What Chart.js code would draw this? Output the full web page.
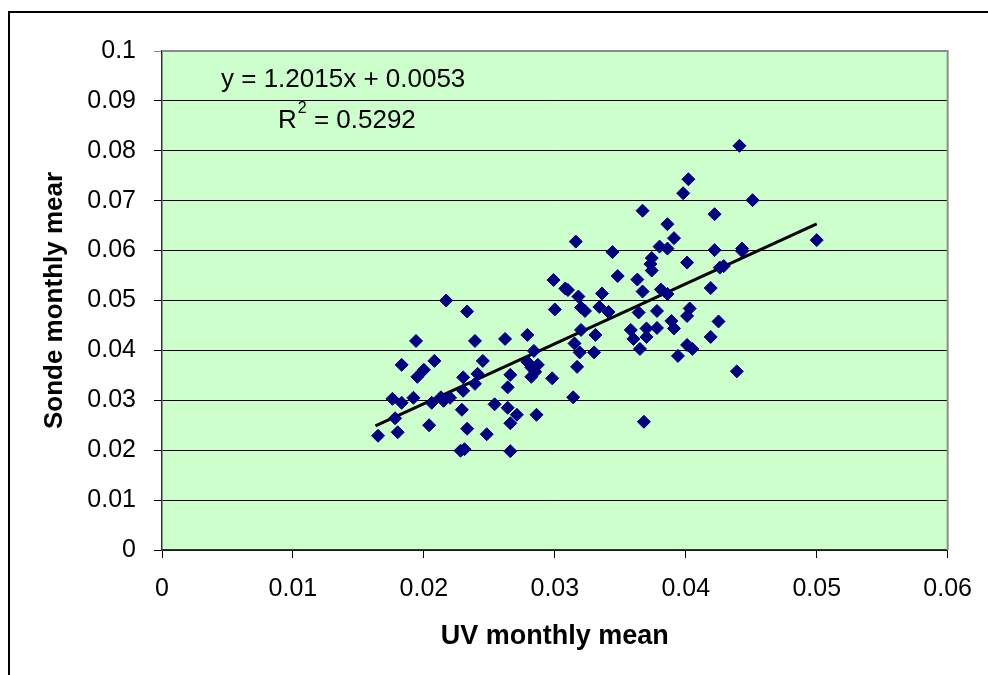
<!DOCTYPE html>
<html>
<head>
<meta charset="utf-8">
<script src="https://cdn.jsdelivr.net/npm/chart.js@4/dist/chart.umd.min.js"></script>
<style>
  html, body { margin: 0; padding: 0; background: #fff; }
  #wrap { position: relative; width: 988px; height: 675px; }
</style>
</head>
<body>
<div id="wrap"><canvas id="c" width="988" height="675"></canvas></div>
<script>
// ---- data ----
const uvMean = [
  0.0165, 0.0180, 0.0178, 0.0176, 0.0183, 0.0183, 0.0194, 0.0195, 0.0200, 0.0208,
  0.0192, 0.0204, 0.0206, 0.0213, 0.0215, 0.0220, 0.0217, 0.0233, 0.0229, 0.0233,
  0.0228, 0.0231, 0.0230, 0.0230, 0.0239, 0.0241, 0.0239, 0.0245, 0.0248, 0.0254,
  0.0262, 0.0266, 0.0264, 0.0264, 0.0271, 0.0266, 0.0266, 0.0279, 0.0284, 0.0279,
  0.0282, 0.0287, 0.0285, 0.0282, 0.0286, 0.0298, 0.0314, 0.0315, 0.0317, 0.0299,
  0.0308, 0.0310, 0.0318, 0.0300, 0.0441, 0.0402, 0.0398, 0.0451, 0.0367, 0.0422,
  0.0386, 0.0391, 0.0316, 0.0380, 0.0386, 0.0344, 0.0422, 0.0443, 0.0443, 0.0374,
  0.0373, 0.0401, 0.0374, 0.0426, 0.0429, 0.0348, 0.0363, 0.0419, 0.0367, 0.0381,
  0.0386, 0.0336, 0.0334, 0.0320, 0.0323, 0.0341, 0.0364, 0.0378, 0.0403, 0.0401,
  0.0425, 0.0389, 0.0391, 0.0320, 0.0331, 0.0358, 0.0370, 0.0370, 0.0378, 0.0360,
  0.0419, 0.0319, 0.0330, 0.0365, 0.0394, 0.0401, 0.0405, 0.0439, 0.0368, 0.0500
];
const sondeMean = [
  0.0229, 0.0236, 0.0264, 0.0303, 0.0295, 0.0371, 0.0419, 0.0347, 0.0361, 0.0379,
  0.0305, 0.0250, 0.0295, 0.0306, 0.0299, 0.0305, 0.0500, 0.0478, 0.0281, 0.0243,
  0.0199, 0.0202, 0.0346, 0.0319, 0.0419, 0.0353, 0.0333, 0.0379, 0.0232, 0.0292,
  0.0423, 0.0351, 0.0326, 0.0285, 0.0271, 0.0254, 0.0198, 0.0431, 0.0399, 0.0377,
  0.0366, 0.0371, 0.0357, 0.0347, 0.0271, 0.0344, 0.0306, 0.0414, 0.0367, 0.0541,
  0.0524, 0.0521, 0.0508, 0.0482, 0.0810, 0.0743, 0.0715, 0.0701, 0.0680, 0.0673,
  0.0653, 0.0625, 0.0618, 0.0608, 0.0604, 0.0597, 0.0601, 0.0604, 0.0599, 0.0585,
  0.0573, 0.0576, 0.0560, 0.0566, 0.0569, 0.0549, 0.0542, 0.0525, 0.0518, 0.0522,
  0.0513, 0.0514, 0.0487, 0.0486, 0.0479, 0.0477, 0.0476, 0.0479, 0.0484, 0.0469,
  0.0458, 0.0459, 0.0444, 0.0441, 0.0431, 0.0441, 0.0444, 0.0427, 0.0445, 0.0423,
  0.0427, 0.0396, 0.0396, 0.0403, 0.0389, 0.0411, 0.0403, 0.0358, 0.0257, 0.0621
];
const trendSlope = 1.2015;
const trendIntercept = 0.0053;
const rSquared = 0.5292;
const trendFrom = 0.0163;
const xTicks = [0, 0.01, 0.02, 0.03, 0.04, 0.05, 0.06];
const yTicks = [0, 0.01, 0.02, 0.03, 0.04, 0.05, 0.06, 0.07, 0.08, 0.09, 0.1];
const xTitle = 'UV monthly mean';
const yTitle = 'Sonde monthly mear';

// ---- build chart ----
const points = uvMean.map((x, i) => ({ x: x, y: sondeMean[i] }));
const xMax = Math.max(...uvMean);
const trend = [trendFrom, xMax].map(x => ({ x: x, y: trendSlope * x + trendIntercept }));

const FONT = '"Liberation Sans", Arial, sans-serif';

const decorPlugin = {
  id: 'decor',
  beforeDraw(chart) {
    const { ctx, chartArea: a } = chart;
    ctx.save();
    ctx.strokeStyle = '#000';
    ctx.lineWidth = 2;
    ctx.beginPath();
    ctx.moveTo(9, 675);
    ctx.lineTo(9, 12);
    ctx.lineTo(988, 12);
    ctx.stroke();
    ctx.fillStyle = '#CCFFCC';
    ctx.fillRect(a.left, a.top, a.right - a.left, a.bottom - a.top);
    ctx.restore();
  },
  beforeDatasetsDraw(chart) {
    const { ctx, chartArea: a } = chart;
    ctx.save();
    ctx.strokeStyle = '#8c8c8c';
    ctx.lineWidth = 2;
    ctx.beginPath();
    ctx.moveTo(a.left, a.top);
    ctx.lineTo(a.right, a.top);
    ctx.lineTo(a.right, a.bottom);
    ctx.stroke();
    ctx.restore();
  },
  afterDraw(chart) {
    const { ctx } = chart;
    ctx.save();
    ctx.fillStyle = '#000';
    ctx.textBaseline = 'alphabetic';
    ctx.textAlign = 'left';
    ctx.font = '26px ' + FONT;
    const eq = 'y = ' + trendSlope.toFixed(4) + 'x + ' + trendIntercept.toFixed(4);
    ctx.fillText(eq, 221, 87);
    ctx.fillText('R', 278, 128);
    const rw = ctx.measureText('R').width;
    ctx.font = '16px ' + FONT;
    ctx.fillText('2', 278 + rw + 1, 113);
    const sw = ctx.measureText('2').width;
    ctx.font = '26px ' + FONT;
    ctx.fillText(' = ' + rSquared.toFixed(4), 278 + rw + sw + 1, 128);
    ctx.restore();
  }
};

new Chart(document.getElementById('c'), {
  type: 'scatter',
  data: {
    datasets: [
      {
        type: 'scatter',
        data: points,
        pointStyle: 'rectRot',
        pointRadius: 6.5,
        pointHoverRadius: 6.5,
        backgroundColor: '#000080',
        borderColor: '#000080',
        borderWidth: 1
      },
      {
        type: 'line',
        data: trend,
        borderColor: '#000',
        borderWidth: 3,
        pointRadius: 0,
        fill: false,
        tension: 0
      }
    ]
  },
  plugins: [decorPlugin],
  options: {
    responsive: false,
    animation: false,
    events: [],
    layout: { padding: { left: 0, top: 51, right: 37, bottom: 0 } },
    plugins: { legend: { display: false }, tooltip: { enabled: false } },
    scales: {
      x: {
        type: 'linear',
        min: 0, max: 0.06,
        afterBuildTicks(s) { s.ticks = xTicks.map(v => ({ value: v })); },
        afterFit(s) { s.height = 125; },
        ticks: {
          color: '#000',
          font: { family: FONT, size: 25 },
          padding: 16,
          callback: v => String(+v.toFixed(2))
        },
        grid: { drawOnChartArea: false, drawTicks: true, tickLength: 8, color: '#000', lineWidth: 1 },
        border: { display: true, color: '#333', width: 1.5 },
        title: {
          display: true, text: xTitle, color: '#000',
          font: { family: FONT, size: 27, weight: 'bold' },
          padding: { top: 0, bottom: 22 }
        }
      },
      y: {
        type: 'linear',
        min: 0, max: 0.1,
        afterBuildTicks(s) { s.ticks = yTicks.map(v => ({ value: v })); },
        afterFit(s) { s.width = 162; },
        ticks: {
          color: '#000',
          font: { family: FONT, size: 25 },
          padding: 18,
          callback: v => String(+v.toFixed(2))
        },
        grid: {
          drawOnChartArea: true, drawTicks: true, tickLength: 8,
          color: ctx => (ctx.tick && ctx.tick.value >= 0.1) ? '#8c8c8c' : '#000',
          lineWidth: 1
        },
        border: { display: true, color: '#333', width: 1.5 },
        title: {
          display: true, text: yTitle, color: '#000',
          font: { family: FONT, size: 26, weight: 'bold' },
          padding: { top: 39, bottom: 0 }
        }
      }
    }
  }
});
</script>
</body>
</html>
